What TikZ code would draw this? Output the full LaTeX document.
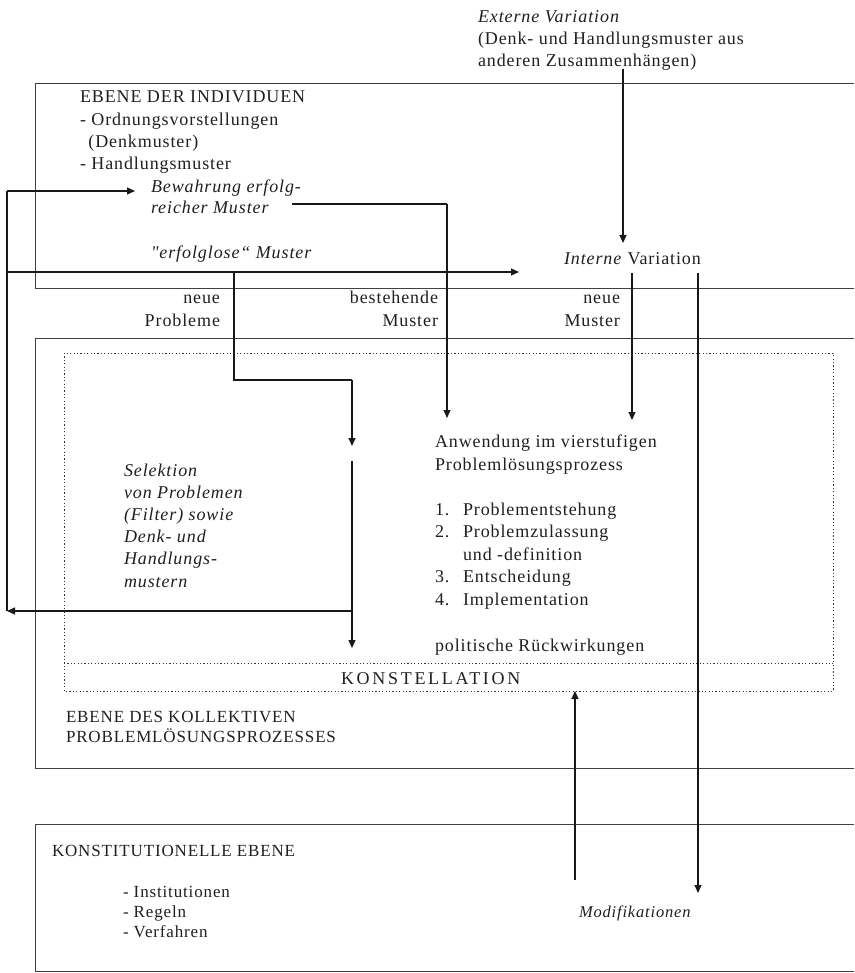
\documentclass[tikz,border=0pt]{standalone}
\usepackage{fontspec}
\setmainfont{Liberation Serif}[LetterSpace=5, Ligatures=TeXOff]
\usetikzlibrary{arrows.meta}
\begin{document}
\begin{tikzpicture}[x=1pt,y=-1pt,
  % multi-line nodes: the base anchor is the baseline of the LAST line
  txt/.style={inner sep=0pt, outer sep=0pt, anchor=base west, align=left,
              font=\fontsize{18}{22.4}\selectfont, text=black!88},
  txtr/.style={txt, anchor=base east, align=right},
  boxline/.style={draw=black!75, line width=0.9pt},
  dotline/.style={draw=black!80, line width=0.7pt, dash pattern=on 1.2pt off 2.2pt},
  plain/.style={draw=black!90, line width=1.1pt},
  conn/.style={plain, -{Triangle[length=8pt,width=7pt]}}
]
\useasboundingbox (0,0) rectangle (854,973);

% boxes (open to the right)
\draw[boxline] (854,83) -- (35,83) -- (35,288) -- (854,288);
\draw[boxline] (854,338) -- (35,338) -- (35,768) -- (854,768);
\draw[boxline] (854,824) -- (35,824) -- (35,971.5) -- (854,971.5);
\draw[dotline] (64,353) rectangle (833,691);
\draw[dotline] (64,663) -- (833,663);

% texts
\node[txt] (ext) at (478,67) {\itshape Externe Variation\\(Denk- und Handlungsmuster aus\\anderen Zusammenhängen)};
\node[txt] (indiv) at (80,170) {EBENE DER INDIVIDUEN\\- Ordnungsvorstellungen\\\ \,(Denkmuster)\\- Handlungsmuster};
\node[txt, font=\fontsize{18}{21}\selectfont\itshape] (bew) at (151,214) {Bewahrung erfolg-\\reicher Muster};
\node[txt, font=\fontsize{18}{21}\selectfont\itshape] (erf) at (151,259) {"erfolglose“ Muster};
\node[txt] (intvar) at (564,265) {\textit{Interne} Variation};
\node[txtr, font=\fontsize{18}{23}\selectfont] (np) at (220,326) {neue\\Probleme};
\node[txtr, font=\fontsize{18}{23}\selectfont] (bm) at (438,326) {bestehende\\Muster};
\node[txtr, font=\fontsize{18}{23}\selectfont] (nm) at (620,326) {neue\\Muster};
\node[txt, font=\fontsize{18}{22.2}\selectfont\itshape] (sel) at (124,587) {Selektion\\von Problemen\\(Filter) sowie\\Denk- und\\Handlungs-\\mustern};
\node[txt] (anw) at (435,470) {Anwendung im vierstufigen\\Problemlösungsprozess};
\node[txt, font=\fontsize{18}{22.5}\selectfont] (steps) at (435,605) {1.\\2.\\\mbox{}\\3.\\4.};
\node[txt, font=\fontsize{18}{22.5}\selectfont] (stepst) at (463,605) {Problementstehung\\Problemzulassung\\und -definition\\Entscheidung\\Implementation};
\node[txt] (pol) at (435,651) {politische Rückwirkungen};
\node[txt] (konst) at (341,684) {\addfontfeature{LetterSpace=15}KONSTELLATION};
\node[txt, font=\fontsize{17}{20}\selectfont] (koll) at (66,742) {EBENE DES KOLLEKTIVEN\\PROBLEMLÖSUNGSPROZESSES};
\node[txt, font=\fontsize{17}{20}\selectfont] (konstit) at (52,856) {KONSTITUTIONELLE EBENE};
\node[txt, font=\fontsize{17}{20}\selectfont] (inst) at (123,937) {- Institutionen\\- Regeln\\- Verfahren};
\node[txt, font=\fontsize{16.5}{20}\selectfont\itshape] (mod) at (579,917) {Modifikationen};

% connector points
\coordinate (extS) at (623,69);
\coordinate (intN) at (623,243);
\coordinate (L1) at (7,191);
\coordinate (L2) at (7,272);
\coordinate (L3) at (7,611);
\coordinate (bewW) at (135,191);
\coordinate (intW) at (519,272);
\coordinate (npTop) at (234,272);
\coordinate (npBend) at (234,380);
\coordinate (selBend) at (352,380);
\coordinate (selIn) at (352,446);
\coordinate (selOut) at (352,461);
\coordinate (selBranch) at (352,611);
\coordinate (konstIn) at (352,648);
\coordinate (bewE) at (292,204);
\coordinate (bmBend) at (447,204);
\coordinate (anwIn1) at (447,418);
\coordinate (nmTop) at (632,273);
\coordinate (anwIn2) at (632,420);
\coordinate (modTop) at (698,273);
\coordinate (modIn) at (698,893);
\coordinate (upFrom) at (575,880);
\coordinate (konstBot) at (575,691);

% connectors
\draw[conn] (extS) -- (intN);
\draw[plain] (L3) -- (L1);
\draw[conn] (L1) -- (bewW);
\draw[conn] (L2) -- (intW);
\draw[plain] (npTop) -- (npBend) -- (selBend);
\draw[conn] (selBend) -- (selIn);
\draw[conn] (selOut) -- (konstIn);
\draw[conn] (selBranch) -- (L3);
\draw[plain] (bewE) -- (bmBend);
\draw[conn] (bmBend) -- (anwIn1);
\draw[conn] (nmTop) -- (anwIn2);
\draw[conn] (modTop) -- (modIn);
\draw[conn] (upFrom) -- (konstBot);
\end{tikzpicture}
\end{document}
